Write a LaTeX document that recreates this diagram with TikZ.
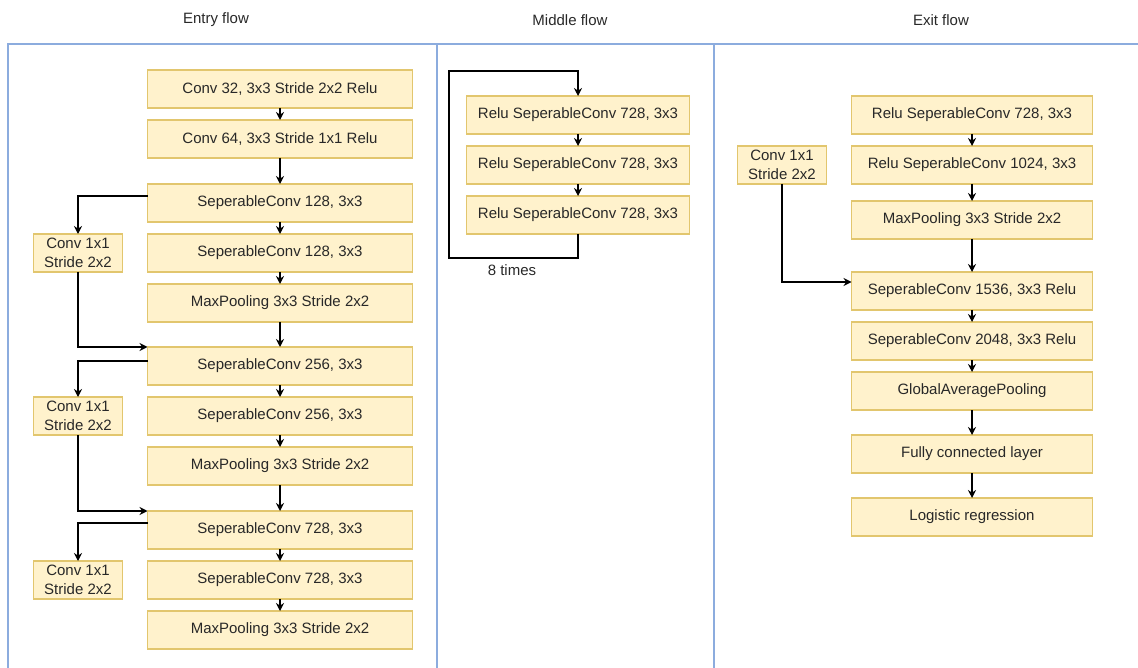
\documentclass[tikz,border=0pt]{standalone}
\usepackage{fontspec}
\setmainfont{Liberation Sans}
\usetikzlibrary{positioning, arrows.meta, calc}

\definecolor{boxfill}{RGB}{255,242,204}
\definecolor{boxline}{RGB}{226,198,110}
\definecolor{frameblue}{RGB}{140,172,222}
\definecolor{txt}{RGB}{40,40,40}

\begin{document}
\begin{tikzpicture}[
    x=1pt, y=1pt,
    every node/.style = {font=\fontsize{15}{19}\selectfont, text=txt},
    layer/.style  = {draw=boxline, fill=boxfill, line width=1.2pt, rectangle,
                     minimum height=38pt, inner sep=0pt, outer sep=0pt,
                     align=center},
    wide/.style   = {layer, minimum width=265pt},
    mid/.style    = {layer, minimum width=223pt},
    ext/.style    = {layer, minimum width=241pt},
    skip/.style   = {layer, minimum width=89pt},
    arrow/.style  = {-{Stealth[length=8pt, width=8pt]}, line width=1.3pt},
    frame/.style  = {draw=frameblue, line width=1.4pt},
    node distance = 12pt and 25pt
]
\useasboundingbox (0,0) rectangle (1138,-668);

% Ramecek a nadpisy
\draw[frame] (8,-668) -- (8,-44) -- (1138,-44);
\draw[frame] (437,-44) -- (437,-668);
\draw[frame] (714,-44) -- (714,-668);
\node (tEntry)  at (216,-20) {Entry flow};
\node (tMiddle) at (570,-20) {Middle flow};
\node (tExit)   at (941,-20) {Exit flow};

% Entry flow
\node[wide] (e1) at (280,-89)    {Conv 32, 3x3 Stride 2x2 Relu};
\node[wide, below=of e1]      (e2)  {Conv 64, 3x3 Stride 1x1 Relu};
\node[wide, below=26pt of e2] (sa1) {SeperableConv 128, 3x3};
\node[wide, below=of sa1]     (sa2) {SeperableConv 128, 3x3};
\node[wide, below=of sa2]     (pa)  {MaxPooling 3x3 Stride 2x2};
\node[wide, below=25pt of pa] (sb1) {SeperableConv 256, 3x3};
\node[wide, below=of sb1]     (sb2) {SeperableConv 256, 3x3};
\node[wide, below=of sb2]     (pb)  {MaxPooling 3x3 Stride 2x2};
\node[wide, below=26pt of pb] (sc1) {SeperableConv 728, 3x3};
\node[wide, below=of sc1]     (sc2) {SeperableConv 728, 3x3};
\node[wide, below=of sc2]     (pc)  {MaxPooling 3x3 Stride 2x2};

% Zkratky 1x1
\node[skip, left=of sa2] (ka) {Conv 1x1\\Stride 2x2};
\node[skip, left=of sb2] (kb) {Conv 1x1\\Stride 2x2};
\node[skip, left=of sc2] (kc) {Conv 1x1\\Stride 2x2};

\draw[arrow] (e1)  -- (e2);
\draw[arrow] (e2)  -- (sa1);
\draw[arrow] (sa1) -- (sa2);
\draw[arrow] (sa2) -- (pa);
\draw[arrow] (pa)  -- (sb1);
\draw[arrow] (sb1) -- (sb2);
\draw[arrow] (sb2) -- (pb);
\draw[arrow] (pb)  -- (sc1);
\draw[arrow] (sc1) -- (sc2);
\draw[arrow] (sc2) -- (pc);

\draw[arrow] ($(sa1.west)+(0,7)$) -| (ka.north);
\draw[arrow] (ka.south) |- (sb1.north west);
\draw[arrow] ($(sb1.west)+(0,5)$) -| (kb.north);
\draw[arrow] (kb.south) |- (sc1.north west);
\draw[arrow] ($(sc1.west)+(0,7)$) -| (kc.north);

% Middle flow
\node[mid] (m1) at (578,-115) {Relu SeperableConv 728, 3x3};
\node[mid, below=of m1] (m2) {Relu SeperableConv 728, 3x3};
\node[mid, below=of m2] (m3) {Relu SeperableConv 728, 3x3};
\draw[arrow] (m1) -- (m2);
\draw[arrow] (m2) -- (m3);
\draw[arrow] (m3.south) -- ++(0,-24) -- ++(-129,0)
    |- ($(m1.north)+(0,25)$) -- (m1.north);
\node (times) at ($(m3.south)+(-66,-36)$) {8 times};

% Exit flow
\node[ext] (x1) at (972,-115) {Relu SeperableConv 728, 3x3};
\node[ext, below=of x1]      (x2) {Relu SeperableConv 1024, 3x3};
\node[ext, below=17pt of x2] (x3) {MaxPooling 3x3 Stride 2x2};
\node[ext, below=33pt of x3] (x4) {SeperableConv 1536, 3x3 Relu};
\node[ext, below=of x4]      (x5) {SeperableConv 2048, 3x3 Relu};
\node[ext, below=of x5]      (x6) {GlobalAveragePooling};
\node[ext, below=25pt of x6] (x7) {Fully connected layer};
\node[ext, below=25pt of x7] (x8) {Logistic regression};
\node[skip, left=of x2]      (kx) {Conv 1x1\\Stride 2x2};

\draw[arrow] (x1) -- (x2);
\draw[arrow] (x2) -- (x3);
\draw[arrow] (x3) -- (x4);
\draw[arrow] (x4) -- (x5);
\draw[arrow] (x5) -- (x6);
\draw[arrow] (x6) -- (x7);
\draw[arrow] (x7) -- (x8);
\draw[arrow] (kx.south) |- ($(x4.west)+(0,9)$);

\end{tikzpicture}
\end{document}
